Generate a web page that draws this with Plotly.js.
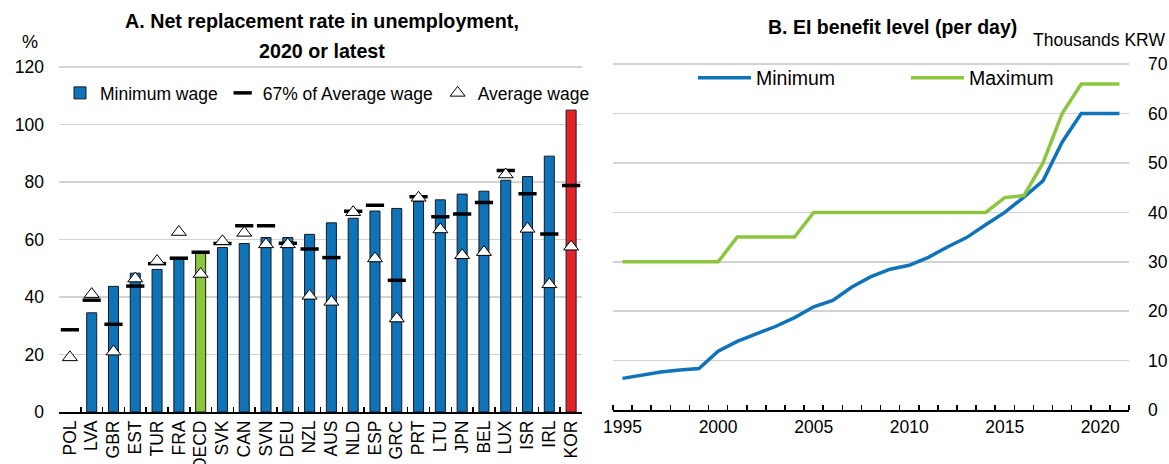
<!DOCTYPE html>
<html>
<head>
<meta charset="utf-8">
<script src="https://cdn.plot.ly/plotly-3.0.1.min.js"></script>
<style>
  html, body { margin: 0; padding: 0; background: #fff; }
  #chart { width: 1169px; height: 464px; }
</style>
</head>
<body>
<div id="chart"></div>
<script>
// ---------- Panel A data ----------
const countries = ["POL","LVA","GBR","EST","TUR","FRA","OECD","SVK","CAN","SVN","DEU","NZL","AUS","NLD","ESP","GRC","PRT","LTU","JPN","BEL","LUX","ISR","IRL","KOR"];
const minimumWage = [null,34.5,43.7,48.3,49.6,53.2,55.4,57.2,58.6,60.7,60.7,61.8,65.8,67.4,69.9,70.8,73.2,73.8,75.8,76.8,80.6,81.9,89.0,105.0];
const avg67Wage   = [28.6,38.9,30.5,43.8,51.6,53.5,55.6,58.6,64.8,64.8,58.7,56.7,53.7,69.8,71.9,45.8,74.9,67.9,68.9,72.9,84.0,75.9,61.9,78.8];
const averageWage = [19.0,41.0,21.0,46.4,52.5,62.6,48.0,59.4,62.3,58.3,58.3,40.4,38.3,69.5,53.4,32.5,74.5,63.5,54.5,55.6,82.6,63.7,44.4,57.5];
const leftTicks = [0, 20, 40, 60, 80, 100, 120];

// ---------- Panel B data ----------
const years = [1995,1996,1997,1998,1999,2000,2001,2002,2003,2004,2005,2006,2007,2008,2009,2010,2011,2012,2013,2014,2015,2016,2017,2018,2019,2020,2021];
const benefitMinimum = [6.4,7.1,7.7,8.1,8.4,11.9,13.9,15.4,16.9,18.7,20.9,22.2,24.9,27.0,28.5,29.3,30.9,33.0,34.9,37.5,40.0,43.1,46.4,54.2,60.0,60.0,60.0];
const benefitMaximum = [30,30,30,30,30,30,35,35,35,35,40,40,40,40,40,40,40,40,40,40,43,43.4,50,60,66,66,66];
const rightTicks = [0, 10, 20, 30, 40, 50, 60, 70];
const yearTicks = [1995, 2000, 2005, 2010, 2015, 2020];

// ---------- styling helpers ----------
const W = 1169, H = 464;
const px = v => v / W;
const py = v => 1 - v / H;
const FONT = "'Liberation Sans', Arial, sans-serif";
const BLUE = "#0F73BA", GREEN = "#8CC63F", RED = "#E2242B", GRID = "#D3D3D3";

const barColors = countries.map(c => c === "KOR" ? RED : (c === "OECD" ? GREEN : BLUE));

const traces = [
  {
    type: "bar", x: countries, y: minimumWage, name: "Minimum wage",
    marker: { color: barColors, line: { color: "#1a1a1a", width: 1 } },
    width: 0.46, xaxis: "x", yaxis: "y", legend: "legend"
  },
  {
    type: "scatter", mode: "markers", x: countries, y: avg67Wage, name: "67% of Average wage",
    marker: { symbol: "line-ew", size: 13, color: "#000", line: { color: "#000", width: 3.5 } },
    xaxis: "x", yaxis: "y", legend: "legend"
  },
  {
    type: "scatter", mode: "markers", x: countries, y: averageWage, name: "Average wage",
    marker: { symbol: "triangle-up", size: 13, color: "#fff", line: { color: "#000", width: 1 } },
    xaxis: "x", yaxis: "y", legend: "legend"
  },
  {
    type: "scatter", mode: "lines", x: years, y: benefitMinimum, name: "Minimum",
    line: { color: BLUE, width: 3.5 }, xaxis: "x2", yaxis: "y2", legend: "legend2"
  },
  {
    type: "scatter", mode: "lines", x: years, y: benefitMaximum, name: "Maximum",
    line: { color: GREEN, width: 3.5 }, xaxis: "x2", yaxis: "y2", legend: "legend2"
  }
];

const tickFont = { family: FONT, size: 17.5, color: "#000" };

// left y: 0 at 412px, 20 units per 57.5px ; right y: 0 at 410px, 10 units per 49.4px
const leftMax = 126, rightMax = 73.5;
const leftTop = 412 - leftMax * (57.5 / 20);
const rightTop = 410 - rightMax * (49.4 / 10);

const layout = {
  width: W, height: H,
  margin: { l: 0, r: 0, t: 0, b: 0 },
  paper_bgcolor: "#ffffff", plot_bgcolor: "#ffffff",
  font: { family: FONT, size: 18, color: "#000" },
  showlegend: true,
  xaxis: {
    domain: [px(59), px(582)], anchor: "y", type: "category",
    range: [-0.5, 23.5], tickmode: "linear", tick0: 0, dtick: 1,
    tickangle: -90, tickfont: tickFont,
    ticks: "inside", tickson: "boundaries", ticklen: 5, tickwidth: 1.5, tickcolor: "#000",
    showline: true, linecolor: "#000", linewidth: 1.5, showgrid: false, automargin: false,
    fixedrange: true
  },
  yaxis: {
    domain: [py(412), py(leftTop)], anchor: "x", range: [0, leftMax],
    tickmode: "array", tickvals: leftTicks,
    tickfont: tickFont, showline: false, ticks: "", showgrid: true,
    gridcolor: GRID, gridwidth: 1.6, zeroline: false, automargin: false,
    ticklabelstandoff: 14, fixedrange: true
  },
  xaxis2: {
    domain: [px(613), px(1129)], anchor: "y2", range: [1994.5, 2021.5],
    tickmode: "array", tickvals: yearTicks, tickfont: tickFont,
    ticks: "", showline: true, linecolor: "#000", linewidth: 1.5, showgrid: false,
    zeroline: false, automargin: false,
    minor: { ticks: "inside", tick0: 1994.5, dtick: 1, ticklen: 5, tickwidth: 1.5, tickcolor: "#000", showgrid: false },
    fixedrange: true
  },
  yaxis2: {
    domain: [py(410), py(rightTop)], anchor: "x2", side: "right", range: [0, rightMax],
    tickmode: "array", tickvals: rightTicks,
    tickfont: tickFont, showline: false, ticks: "", showgrid: true,
    gridcolor: GRID, gridwidth: 1.6, zeroline: false, automargin: false,
    ticklabelstandoff: 18, fixedrange: true
  },
  legend: {
    orientation: "h", x: px(60), y: py(93), xanchor: "left", yanchor: "middle",
    font: { family: FONT, size: 17.5, color: "#000" }, bgcolor: "rgba(0,0,0,0)",
    itemwidth: 30, tracegroupgap: 0, itemclick: false, itemdoubleclick: false
  },
  legend2: {
    orientation: "h", x: px(693), y: py(78), xanchor: "left", yanchor: "middle",
    font: { family: FONT, size: 19.5, color: "#000" }, bgcolor: "rgba(0,0,0,0)",
    itemwidth: 53, entrywidth: 145, itemclick: false, itemdoubleclick: false
  },
  annotations: [
    { text: "<b>A. Net replacement rate in unemployment,</b>", xref: "paper", yref: "paper",
      x: px(322), y: py(21), xanchor: "center", yanchor: "middle", showarrow: false,
      font: { family: FONT, size: 19.7, color: "#000" } },
    { text: "<b>2020 or latest</b>", xref: "paper", yref: "paper",
      x: px(322), y: py(51), xanchor: "center", yanchor: "middle", showarrow: false,
      font: { family: FONT, size: 19.7, color: "#000" } },
    { text: "%", xref: "paper", yref: "paper", x: px(30), y: py(42),
      xanchor: "center", yanchor: "middle", showarrow: false, font: { family: FONT, size: 18, color: "#000" } },
    { text: "<b>B. EI benefit level (per day)</b>", xref: "paper", yref: "paper",
      x: px(892), y: py(27), xanchor: "center", yanchor: "middle", showarrow: false,
      font: { family: FONT, size: 19.5, color: "#000" } },
    { text: "Thousands KRW", xref: "paper", yref: "paper", x: px(1167), y: py(40),
      xanchor: "right", yanchor: "middle", showarrow: false, font: { family: FONT, size: 17.5, color: "#000" } }
  ]
};

Plotly.newPlot("chart", traces, layout, { displayModeBar: false, staticPlot: true });
</script>
</body>
</html>
